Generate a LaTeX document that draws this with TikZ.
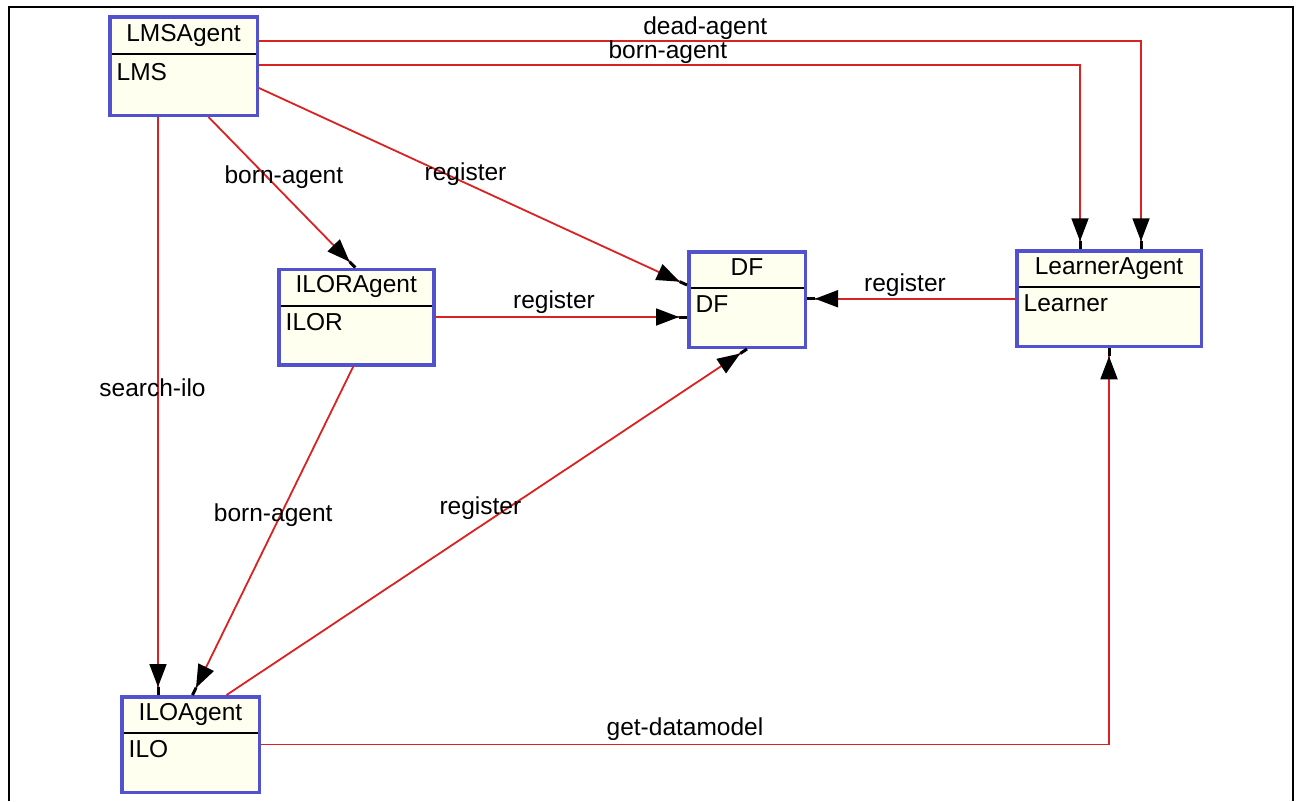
\documentclass[tikz,border=0pt]{standalone}
\usepackage{fontspec}
\setmainfont{Liberation Sans}
\usetikzlibrary{arrows.meta}
\definecolor{agentblue}{RGB}{82,82,206}
\definecolor{agentfill}{RGB}{255,255,240}
\definecolor{msgred}{RGB}{218,34,34}
\tikzset{
  agent/.style={draw=agentblue, line width=3.5pt, fill=agentfill, minimum height=95.5pt, inner sep=0pt},
  divider/.style={line width=2pt, shorten >=3.5pt, shorten <=3.5pt},
  msg/.style={draw=msgred, line width=1.8pt,
    -{Triangle[length=23pt,width=17pt,sep=0pt,color=black]Rectangle[length=8pt,width=3pt,sep=0pt,color=black]}},
  lbl/.style={inner sep=0pt, anchor=base, text=black},
}

\begin{document}
\begin{tikzpicture}[x=1pt,y=-1pt,font=\fontsize{24.5}{29}\selectfont]
    \useasboundingbox (0,0) rectangle (1298,801);
    \fill[white] (0,0) rectangle (1298,801);
    \draw[line width=2pt] (8.5,801) -- (8.5,7) -- (1293,7) -- (1293,801);
    % agents
    \node[agent, minimum width=147.5pt, minimum height=98.5pt] (lms) at (183.5,66) {};
    \node[agent, minimum width=155pt] (ilor) at (356.25,317) {};
    \node[agent, minimum width=116.5pt] (df) at (747,299.5) {};
    \node[agent, minimum width=184.5pt] (learner) at (1109,298.75) {};
    \node[agent, minimum width=137.5pt] (ilo) at (190.5,744.5) {};
    \draw[divider] ([yshift=-39pt]lms.north west) -- ([yshift=-39pt]lms.north east);
    \draw[divider] ([yshift=-38pt]ilor.north west) -- ([yshift=-38pt]ilor.north east);
    \draw[divider] ([yshift=-38pt]df.north west) -- ([yshift=-38pt]df.north east);
    \draw[divider] ([yshift=-38pt]learner.north west) -- ([yshift=-38pt]learner.north east);
    \draw[divider] ([yshift=-38pt]ilo.north west) -- ([yshift=-38pt]ilo.north east);
    \node[lbl] (lms-t) at ([yshift=-26pt]lms.north) {LMSAgent};
    \node[lbl, anchor=base west] (lms-b) at ([xshift=8.5pt,yshift=-65pt]lms.north west) {LMS};
    \node[lbl] (ilor-t) at ([yshift=-25pt]ilor.north) {ILORAgent};
    \node[lbl, anchor=base west] (ilor-b) at ([xshift=8.5pt,yshift=-62.5pt]ilor.north west) {ILOR};
    \node[lbl] (df-t) at ([yshift=-25pt]df.north) {DF};
    \node[lbl, anchor=base west] (df-b) at ([xshift=8.5pt,yshift=-62.5pt]df.north west) {DF};
    \node[lbl] (learner-t) at ([yshift=-25pt]learner.north) {LearnerAgent};
    \node[lbl, anchor=base west] (learner-b) at ([xshift=8.5pt,yshift=-62.5pt]learner.north west) {Learner};
    \node[lbl] (ilo-t) at ([yshift=-25pt]ilo.north) {ILOAgent};
    \node[lbl, anchor=base west] (ilo-b) at ([xshift=8.5pt,yshift=-62.5pt]ilo.north west) {ILO};
    % messages
    \coordinate (lmsdrop) at ([xshift=-25.5pt]lms.south);
    \draw[msg] ([yshift=-26pt]lms.north east) -| ([xshift=32pt]learner.north)
        node[lbl, pos=0.253, yshift=7pt] {dead-agent};
    \draw[msg] ([yshift=-50pt]lms.north east) -| ([xshift=-29pt]learner.north)
        node[lbl, pos=0.249, yshift=7pt] {born-agent};
    \draw[msg] ([yshift=-73pt]lms.north east) -- ([yshift=-35pt]df.north west)
        node[lbl, pos=0.4825, yshift=3pt] {register};
    \draw[msg] ([xshift=25pt]lms.south) -- ([xshift=-1pt]ilor.north)
        node[lbl, pos=0.4385, xshift=11pt] {born-agent};
    \draw[msg] (lmsdrop) -- (lmsdrop |- ilo.north)
        node[lbl, pos=0.484, xshift=-5.5pt] {search-ilo};
    \draw[msg] (ilor.east) -- (df.west |- ilor.east)
        node[lbl, pos=0.471, yshift=9pt] {register};
    \draw[msg] (learner.west) -- (df.east |- learner.west)
        node[lbl, pos=0.529, yshift=7pt] {register};
    \draw[msg] ([xshift=-3pt]ilor.south) -- ([xshift=2pt]ilo.north)
        node[lbl, pos=0.473, xshift=-4pt] {born-agent};
    \draw[msg] ([xshift=36pt]ilo.north) -- (df.south)
        node[lbl, pos=0.4878, yshift=12pt] {register};
    \draw[msg] (ilo.east) -| (learner.south)
        node[lbl, pos=0.25, yshift=9pt] {get-datamodel};
\end{tikzpicture}
\end{document}
